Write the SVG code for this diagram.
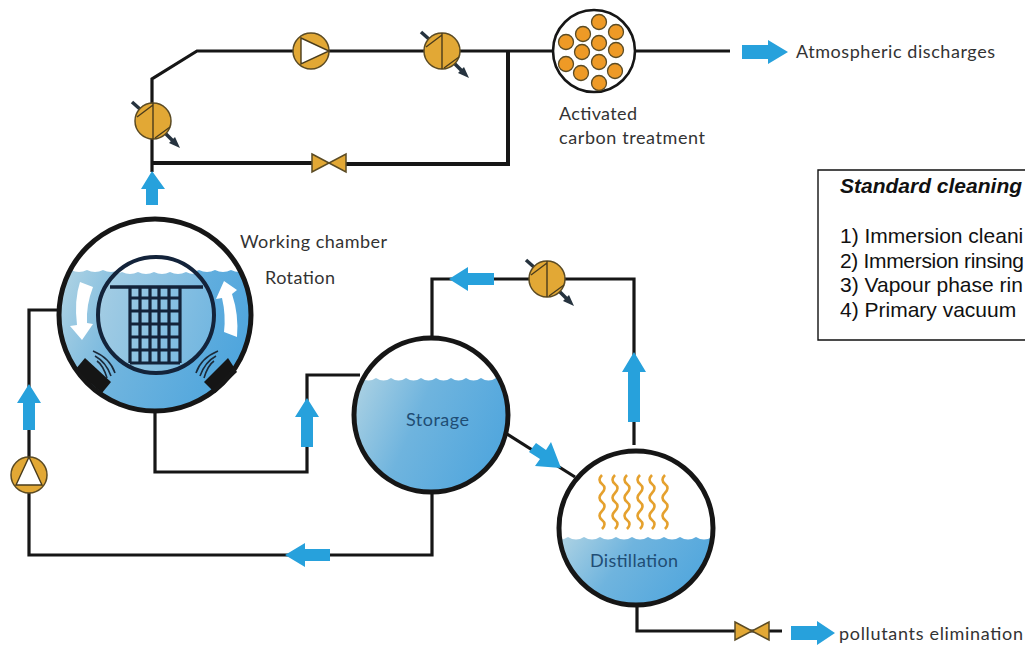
<svg xmlns="http://www.w3.org/2000/svg" width="1025" height="646" viewBox="0 0 1025 646">
<style>
.pipe{fill:none;stroke:#161616;stroke-width:3.2}
.pipeb{fill:none;stroke:#161616;stroke-width:4}
.vessel{fill:none;stroke:#161616;stroke-width:5}
.arrow{fill:#27a1dc}
.lbl{font-family:Lato,"Open Sans",sans-serif;font-size:18px;fill:#333}
.inlbl{font-family:Lato,"Open Sans",sans-serif;font-size:18px;fill:#1f4d74}
.box{font-family:"Liberation Sans",Arial,sans-serif;font-size:21px;fill:#111}
.equip{fill:#e2a835;stroke:#5b4b24;stroke-width:1.5}
.thin{fill:none;stroke:#4a3c1c;stroke-width:1.4}
.stub{fill:none;stroke:#26333f;stroke-width:3.5}
.grid{fill:none;stroke:#13233a;stroke-width:3.2}
.sound{fill:none;stroke:#1b2a3a;stroke-width:1.6}
.steam{fill:none;stroke:#e5a12e;stroke-width:2.6}
.pellet{fill:#ee9a26;stroke:#5b4b24;stroke-width:1.3}
</style>
<defs>
<linearGradient id="water" x1="0" y1="0" x2="1" y2="0.3">
<stop offset="0" stop-color="#b5d6e4"/><stop offset="0.45" stop-color="#6fb4de"/><stop offset="1" stop-color="#4ea5dd"/>
</linearGradient>
<linearGradient id="inner" x1="0" y1="0" x2="1" y2="0.2">
<stop offset="0" stop-color="#a9cfe4"/><stop offset="1" stop-color="#6fb5e0"/>
</linearGradient>
<clipPath id="cChamber"><circle cx="155" cy="315" r="96"/></clipPath>
<clipPath id="cInner"><circle cx="156" cy="315" r="57"/></clipPath>
<clipPath id="cStorage"><circle cx="431" cy="415" r="77"/></clipPath>
<clipPath id="cDist"><circle cx="636" cy="528" r="77"/></clipPath>
<g id="hx">
<path class="stub" d="M-21-19L-12-11"/>
<path class="stub" d="M11 11L22 22"/>
<path d="M27 27L16 22L22 16Z" fill="#26333f"/>
<circle class="equip" r="18"/>
<path class="thin" d="M0-18V18M-16-4L0-16M2 17L17 6"/>
</g>
<g id="valve">
<path class="equip" d="M-17-9L17 9V-9L-17 9Z"/>
</g>
</defs>

<g id="connectors">
<path class="pipe" d="M152 172V79L197 51H730"/>
<path class="pipeb" d="M508 51V164H345"/>
<path class="pipeb" d="M152 163H312"/>
<path class="pipe" d="M59 310H29V555H432V490"/>
<path class="pipe" d="M155 410V472H307V375H360"/>
<path class="pipe" d="M432 340V279H634V445"/>
<path class="pipe" d="M507 434L575 477"/>
<path class="pipe" d="M637 604V631H782"/>
<path class="arrow" d="M152 171L165 189H158V205H146V189H141Z"/>
<path class="arrow" d="M29 384L41 403H35V430H23V403H17Z"/>
<path class="arrow" d="M307 398L319 417H313V447H301V417H295Z"/>
<path class="arrow" d="M634 352L646 372H640V422H628V372H622Z"/>
<path class="arrow" d="M285 555L305 543V549H330V561H305V567Z"/>
<path class="arrow" d="M449 279L468 267V273H494V285H468V291Z"/>
<path class="arrow" d="M561 468L535 466L540 459L529 452L536 443L546 450L551 442Z"/>
<path class="arrow" d="M788 52L768 40V45H742V59H768V64Z"/>
<path class="arrow" d="M835 633L817 621V626H791V640H817V645Z"/>
</g>

<g id="hx-1"><use href="#hx" x="153" y="121"/></g>
<g id="pump-top"><circle class="equip" cx="311" cy="51" r="18"/><path d="M301 38L329 51L301 64Z" fill="#fff" stroke="#4a3c1c" stroke-width="1.4"/></g>
<g id="hx-2"><use href="#hx" x="442" y="51"/></g>
<g id="valve-top"><use href="#valve" x="329" y="163"/></g>

<g id="carbon">
<circle cx="594" cy="51" r="41" fill="#fff" stroke="#161616" stroke-width="2.6"/>
<circle class="pellet" cx="599" cy="22" r="7.5"/><circle class="pellet" cx="616" cy="32" r="7.5"/><circle class="pellet" cx="583" cy="34" r="7.5"/><circle class="pellet" cx="566" cy="42" r="7.5"/><circle class="pellet" cx="599" cy="43" r="7.5"/><circle class="pellet" cx="616" cy="50" r="7.5"/><circle class="pellet" cx="582" cy="52" r="7.5"/><circle class="pellet" cx="566" cy="64" r="7.5"/><circle class="pellet" cx="599" cy="62" r="7.5"/><circle class="pellet" cx="615" cy="71" r="7.5"/><circle class="pellet" cx="581" cy="73" r="7.5"/><circle class="pellet" cx="599" cy="83" r="7.5"/>
<text class="lbl" x="559" y="120" textLength="78">Activated</text>
<text class="lbl" x="559" y="144" textLength="146">carbon treatment</text>
</g>
<g id="atmos"><text class="lbl" x="796" y="58" textLength="199">Atmospheric discharges</text></g>

<g id="chamber">
<circle cx="155" cy="315" r="96" fill="#fff"/>
<g clip-path="url(#cChamber)">
<path fill="url(#water)" d="M55 270q8 4 16 0q8 4 16 0q8 4 16 0q8 4 16 0q8 4 16 0q8 4 16 0q8 4 16 0q8 4 16 0q8 4 16 0q8 4 16 0q8 4 16 0q8 4 16 0q8 4 16 0V420H55Z"/>
</g>
<g clip-path="url(#cInner)">
<rect x="95" y="255" width="122" height="120" fill="#fff"/>
<path fill="url(#inner)" d="M90 272q8 4 16 0q8 4 16 0q8 4 16 0q8 4 16 0q8 4 16 0q8 4 16 0q8 4 16 0q8 4 16 0q8 4 16 0V380H90Z"/>
</g>
<circle cx="156" cy="315" r="58" fill="none" stroke="#13233a" stroke-width="4"/>
<path fill="none" stroke="#13233a" stroke-width="3.6" d="M110 287H203"/>
<path class="grid" d="M130 287V363M140 287V363M150 287V363M159 287V363M169 287V363M180 287V363M130 298H180M130 311H180M130 324H180M130 337H180M130 350H180M130 363H180"/>
<path fill="#fff" d="M80 282L93 287Q86 305 87 323L93 324L82 340L70 326L77 325Q74 300 80 282Z"/>
<path fill="#fff" d="M224 281L237 290L232 294Q239 315 237 337L224 332Q226 315 222 298L216 299Z"/>
<path fill="#151515" d="M85 358L111 382L102 393L75 370Z"/>
<path fill="#151515" d="M228 358L237 372L215 393L204 382Z"/>
<path class="sound" d="M93 351Q110 358 115 373M95 356Q106 362 111 376M97 361Q103 365 107 378"/>
<path class="sound" d="M218 351Q201 358 196 373M216 356Q205 362 200 376M214 361Q208 365 204 378"/>
<circle class="vessel" cx="155" cy="315" r="96"/>
<text class="lbl" x="240" y="248" textLength="147">Working chamber</text>
<text class="lbl" x="265" y="284" textLength="70">Rotation</text>
</g>

<g id="pump-left"><circle class="equip" cx="29" cy="475" r="18"/><path d="M16 485L29 457L42 485Z" fill="#fff" stroke="#4a3c1c" stroke-width="1.4"/></g>

<g id="storage">
<circle cx="431" cy="415" r="77" fill="#fff"/>
<g clip-path="url(#cStorage)">
<path fill="url(#water)" d="M346 378q7.5 5 15 0q7.5 5 15 0q7.5 5 15 0q7.5 5 15 0q7.5 5 15 0q7.5 5 15 0q7.5 5 15 0q7.5 5 15 0q7.5 5 15 0q7.5 5 15 0q7.5 5 15 0q7.5 5 15 0V500H346Z"/>
</g>
<circle class="vessel" cx="431" cy="415" r="77"/>
<text class="inlbl" x="406" y="426" textLength="63">Storage</text>
</g>

<g id="hx-3"><use href="#hx" x="547" y="279"/></g>

<g id="distillation">
<circle cx="636" cy="528" r="77" fill="#fff"/>
<g clip-path="url(#cDist)">
<path fill="url(#water)" d="M552 537q8 5 16 0q8 5 16 0q8 5 16 0q8 5 16 0q8 5 16 0q8 5 16 0q8 5 16 0q8 5 16 0q8 5 16 0q8 5 16 0q8 5 16 0V610H552Z"/>
</g>
<path class="steam" d="M602 475q-5 5 0 9t0 9t0 9t0 9t0 9t0 9M615 475q-5 5 0 9t0 9t0 9t0 9t0 9t0 9M627 475q-5 5 0 9t0 9t0 9t0 9t0 9t0 9M640 475q-5 5 0 9t0 9t0 9t0 9t0 9t0 9M652 475q-5 5 0 9t0 9t0 9t0 9t0 9t0 9M665 475q-5 5 0 9t0 9t0 9t0 9t0 9t0 9"/>
<circle class="vessel" cx="636" cy="528" r="77"/>
<text class="inlbl" x="590" y="567" textLength="88">Distillation</text>
</g>

<g id="valve-bottom"><use href="#valve" x="752" y="631"/></g>
<g id="pollutants"><text class="lbl" x="839" y="640" textLength="184">pollutants elimination</text></g>

<g id="legend">
<path d="M1025 170H818V340H1025" fill="none" stroke="#111" stroke-width="1.4"/>
<text class="box" x="840" y="193" font-weight="bold" font-style="italic">Standard cleaning</text>
<text class="box" x="840" y="243">1) Immersion cleani</text>
<text class="box" x="840" y="268" textLength="184">2) Immersion rinsing</text>
<text class="box" x="840" y="292">3) Vapour phase rin</text>
<text class="box" x="840" y="317">4) Primary vacuum</text>
</g>
</svg>
